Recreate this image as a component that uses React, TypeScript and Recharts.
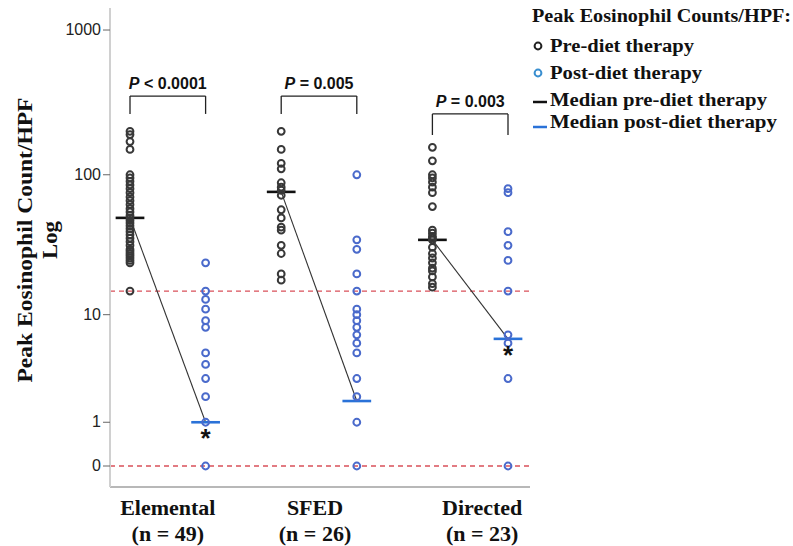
import React from 'react';
import { ScatterChart, Scatter, XAxis, YAxis, ReferenceLine, ReferenceDot } from 'recharts';

// Peak eosinophil counts per HPF
const groups = ['Elemental', 'SFED', 'Directed'];
const groupSizes = [49, 26, 23];
const pLabels = ['< 0.0001', '= 0.005', '= 0.003'];

const elementalPre = [
  200, 190, 170, 150, 100, 95, 90, 85, 80, 75, 70, 66, 62, 58, 55, 52, 50, 48, 46, 44, 42, 40, 38, 36, 34,
  32, 30, 29, 28, 27, 26, 25, 24, 15,
];
const elementalPost = [24, 15, 13, 11, 9, 8, 5, 4, 3, 2, 1, 0];
const sfedPre = [200, 150, 120, 110, 88, 82, 78, 72, 57, 50, 43, 41, 32, 28, 20, 18];
const sfedPost = [100, 35, 30, 20, 15, 11, 10, 9, 8, 7, 6, 5, 3, 2, 1, 0];
const directedPre = [155, 125, 100, 95, 89, 82, 75, 60, 41, 39, 37, 36, 35, 31, 28, 26, 24, 22, 21, 19, 17, 16];
const directedPost = [80, 75, 40, 32, 25, 15, 7, 6, 3, 0];

const preMedians = [50, 76, 35];
const postMedians = [1, 1.8, 6.5];
const starred = [true, false, true];

const eosThreshold = 15;
const yTickValues = [0, 1, 10, 100, 1000];

const logp = (v: number) => Math.log10(v + 1);

const preSets = [elementalPre, sfedPre, directedPre];
const postSets = [elementalPost, sfedPost, directedPost];

const prePoints = preSets.flatMap((vals, i) => vals.map((v) => ({ x: 2 * i + 1, y: logp(v) })));
const postPoints = postSets.flatMap((vals, i) => vals.map((v) => ({ x: 2 * i + 2, y: logp(v) })));

const PRE = '#383838';
const POST = '#4a6acb';
const MED_POST = '#2a72d8';
const serif = '"Liberation Serif", "Times New Roman", serif';
const sans = '"Liberation Sans", Arial, sans-serif';

const Ring = (color: string) => (props: any) => (
  <circle cx={props.cx} cy={props.cy} r={3.4} fill="none" stroke={color} strokeWidth={2} />
);

const YTick = (props: any) => {
  const { x, y, index } = props;
  return (
    <text x={x} y={y} dy={5} textAnchor="end" fontSize={16} fill="#222" fontFamily={sans}>
      {yTickValues[index]}
    </text>
  );
};

const GroupTick = (props: any) => {
  const { x, y, index } = props;
  const dx = [0, -4, 12][index] ?? 0;
  return (
    <g fontFamily={serif} fontWeight="bold" fontSize={22} fill="#111" textAnchor="middle">
      <text x={x + dx} y={y + 28}>{groups[index]}</text>
      <text x={x + dx} y={y + 54}>(n = {groupSizes[index]})</text>
    </g>
  );
};

const PText = (label: string) => (props: any) => (
  <text x={props.cx} y={props.cy - 7} textAnchor="middle" fontSize={16} fontWeight="bold" fontFamily={sans} fill="#111">
    <tspan fontStyle="italic">P</tspan> {label}
  </text>
);

const Star = (props: any) => (
  <text x={props.cx} y={props.cy + 25} textAnchor="middle" fontSize={26} fontWeight="bold" fontFamily={sans} fill="#111">
    *
  </text>
);

const bracketY = [2.546, 2.546, 2.423];
const legDrop = [0.123, 0.123, 0.145];

export default function App(): JSX.Element {
  return (
    <div style={{ position: 'absolute', left: 0, top: 0, width: 793, height: 546, background: '#fff' }}>
      <ScatterChart width={793} height={546} margin={{ top: 8, right: 263, bottom: 0, left: 0 }}>
        <XAxis
          type="number"
          dataKey="x"
          domain={[0.7354, 6.291]}
          ticks={[1.5, 3.5, 5.5]}
          height={59}
          tickSize={0}
          tickMargin={0}
          tickLine={false}
          axisLine={{ stroke: '#b8b8b8', strokeWidth: 2 }}
          tick={<GroupTick />}
          interval={0}
        />
        <YAxis
          type="number"
          dataKey="y"
          domain={[-0.1445, 3.152]}
          ticks={yTickValues.map(logp)}
          width={110}
          tickSize={7}
          tickMargin={2}
          tickLine={{ stroke: '#666' }}
          axisLine={{ stroke: '#d0d0d0', strokeWidth: 2 }}
          tick={<YTick />}
          interval={0}
        />
        <ReferenceLine y={logp(eosThreshold)} stroke="#d9505a" strokeDasharray="5 4" strokeWidth={1.3} />
        <ReferenceLine y={0} stroke="#d9505a" strokeDasharray="5 4" strokeWidth={1.3} />
        {groups.map((g, i) => {
          const x1 = 2 * i + 1;
          const x2 = 2 * i + 2;
          const by = bracketY[i];
          const ly = by - legDrop[i];
          return (
            <React.Fragment key={g}>
              <ReferenceLine segment={[{ x: x1, y: by }, { x: x2, y: by }]} stroke="#222" strokeWidth={1.3} />
              <ReferenceLine segment={[{ x: x1, y: by }, { x: x1, y: ly }]} stroke="#222" strokeWidth={1.3} />
              <ReferenceLine segment={[{ x: x2, y: by }, { x: x2, y: ly }]} stroke="#222" strokeWidth={1.3} />
              <ReferenceDot x={(x1 + x2) / 2} y={by} shape={PText(pLabels[i])} />
              <ReferenceLine
                segment={[{ x: x1, y: logp(preMedians[i]) }, { x: x2, y: logp(postMedians[i]) }]}
                stroke="#333"
                strokeWidth={1.1}
              />
            </React.Fragment>
          );
        })}
        <Scatter data={prePoints} shape={Ring(PRE)} isAnimationActive={false} />
        <Scatter data={postPoints} shape={Ring(POST)} isAnimationActive={false} />
        {groups.map((g, i) => (
          <React.Fragment key={'m' + g}>
            <ReferenceLine
              segment={[{ x: 2 * i + 0.81, y: logp(preMedians[i]) }, { x: 2 * i + 1.19, y: logp(preMedians[i]) }]}
              stroke="#111"
              strokeWidth={2.6}
            />
            <ReferenceLine
              segment={[{ x: 2 * i + 1.81, y: logp(postMedians[i]) }, { x: 2 * i + 2.19, y: logp(postMedians[i]) }]}
              stroke={MED_POST}
              strokeWidth={2.6}
            />
            {starred[i] && <ReferenceDot x={2 * i + 2} y={logp(postMedians[i])} shape={Star} />}
          </React.Fragment>
        ))}
      </ScatterChart>
      <svg width={793} height={546} style={{ position: 'absolute', left: 0, top: 0, pointerEvents: 'none' }}>
        <g fontFamily={serif} fontWeight="bold" fill="#111" textAnchor="middle" fontSize={22}>
          <text x={32} y={240} transform="rotate(-90 32 240)" textLength={285} lengthAdjust="spacingAndGlyphs">
            Peak Eosinophil Count/HPF
          </text>
          <text x={57} y={240} transform="rotate(-90 57 240)" textLength={38} lengthAdjust="spacingAndGlyphs">
            Log
          </text>
        </g>
        <g fontFamily={serif} fontWeight="bold" fill="#111" fontSize={18}>
          <text x={532} y={22} textLength={259} lengthAdjust="spacingAndGlyphs">Peak Eosinophil Counts/HPF:</text>
          <circle cx={538} cy={46} r={3.4} fill="none" stroke="#222" strokeWidth={2} />
          <text x={550} y={52} textLength={144} lengthAdjust="spacingAndGlyphs">Pre-diet therapy</text>
          <circle cx={538} cy={73} r={3.4} fill="none" stroke="#3a8fd0" strokeWidth={2} />
          <text x={550} y={79} textLength={152} lengthAdjust="spacingAndGlyphs">Post-diet therapy</text>
          <line x1={533} x2={547} y1={102} y2={102} stroke="#111" strokeWidth={2.5} />
          <text x={550} y={106} textLength={217} lengthAdjust="spacingAndGlyphs">Median pre-diet therapy</text>
          <line x1={533} x2={547} y1={127} y2={127} stroke={MED_POST} strokeWidth={2.5} />
          <text x={550} y={128} textLength={227} lengthAdjust="spacingAndGlyphs">Median post-diet therapy</text>
        </g>
      </svg>
    </div>
  );
}
